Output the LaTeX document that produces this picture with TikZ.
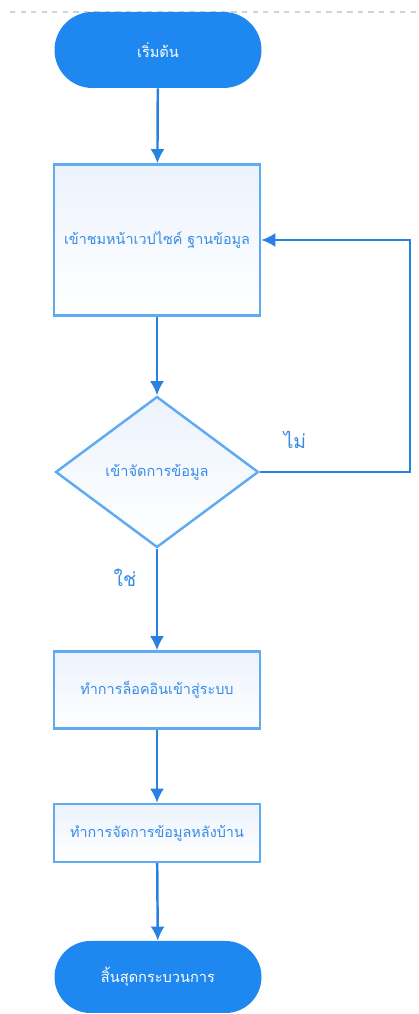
\documentclass[tikz,border=0pt]{standalone}
\usepackage{fontspec}
\newfontfamily\thaifont[Script=Thai]{Loma}
\usetikzlibrary{shapes.geometric,shapes.misc,arrows.meta}
\definecolor{pillblue}{RGB}{30,136,240}
\definecolor{edgeblue}{RGB}{95,170,240}
\definecolor{lineblue}{RGB}{40,130,225}
\definecolor{textblue}{RGB}{55,140,230}
\definecolor{boxfill}{RGB}{236,243,253}
\tikzset{
  pill/.style={rounded rectangle,fill=pillblue,text=white,minimum width=4.14cm,inner sep=0pt,font=\thaifont\fontsize{8.3}{10}\selectfont},
  procbox/.style={rectangle,draw=edgeblue,line width=1.4pt,top color=boxfill,bottom color=white,text=textblue,minimum width=4.12cm,inner sep=0pt,font=\thaifont\fontsize{8.2}{10}\selectfont},
  choice/.style={diamond,draw=edgeblue,line width=1.4pt,top color=boxfill,bottom color=white,text=textblue,minimum width=4.06cm,minimum height=3.02cm,inner sep=0pt,font=\thaifont\fontsize{8.3}{10}\selectfont},
  flow/.style={draw=lineblue,line width=1.4pt,-{Latex[length=8pt,width=8pt]}},
  branch/.style={text=textblue,font=\thaifont\fontsize{11}{13}\selectfont}
}
\begin{document}
\begin{tikzpicture}
\useasboundingbox (0,0) rectangle (8.38,20.28);
\draw[gray!35,dashed,line width=0.8pt] (0.2,20.04) -- (8.38,20.04);
\node[pill,minimum height=1.52cm] (start) at (3.16,19.28) {เริ่มต้น};
\node[procbox,minimum height=3.02cm] (visit) at (3.14,15.48) {เข้าชมหน้าเวปไซค์ ฐานข้อมูล};
\node[choice] (manage) at (3.14,10.84) {เข้าจัดการข้อมูล};
\node[procbox,minimum height=1.54cm] (login) at (3.14,6.48) {ทำการล็อคอินเข้าสู่ระบบ};
\node[procbox,minimum height=1.16cm] (backend) at (3.14,3.62) {ทำการจัดการข้อมูลหลังบ้าน};
\node[pill,minimum height=1.44cm] (finish) at (3.16,0.74) {สิ้นสุดกระบวนการ};
\coordinate (loopdown) at (8.2,10.84);
\coordinate (loopup) at (8.2,15.48);
\draw[flow] (start) -- (visit);
\draw[flow] (visit) -- (manage);
\draw[flow] (manage) -- (login);
\draw[flow] (login) -- (backend);
\draw[flow] (backend) -- (finish);
\draw[flow] (manage.east) -- (loopdown) -- (loopup) -- (visit.east);
\node[branch] (no) at (5.9,11.48) {ไม่};
\node[branch] (yes) at (2.5,8.72) {ใช่};
\end{tikzpicture}
\end{document}
